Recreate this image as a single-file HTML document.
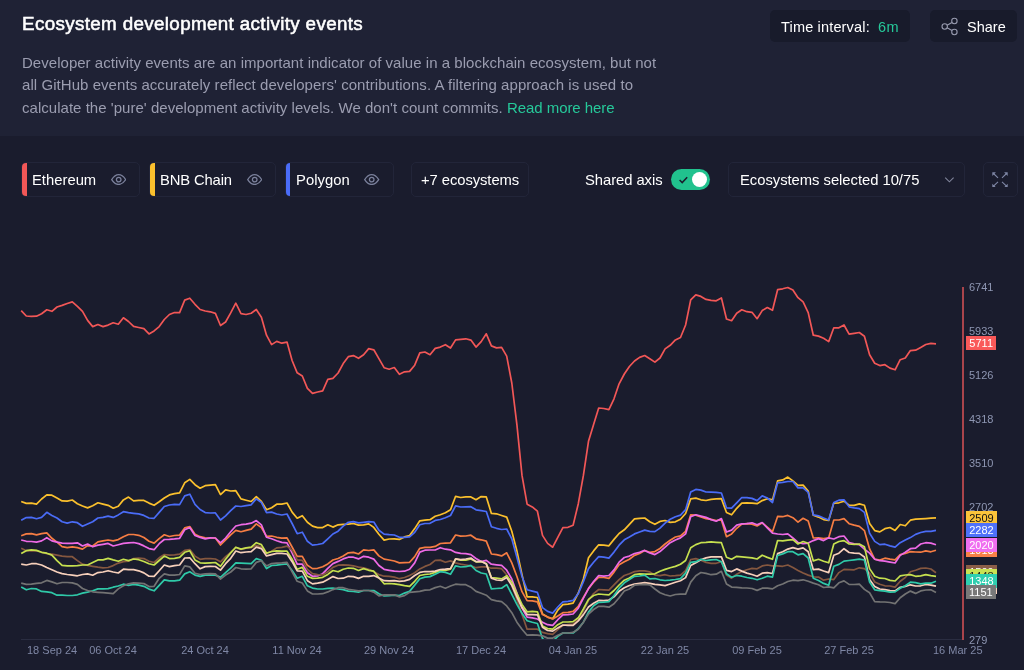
<!DOCTYPE html>
<html><head><meta charset="utf-8">
<style>
*{box-sizing:border-box;margin:0;padding:0}
html,body{width:1024px;height:670px;overflow:hidden;background:#1a1c2d;font-family:"Liberation Sans",sans-serif;color:#fff}
.abs{position:absolute}
#hdr{position:absolute;left:0;top:0;width:1024px;height:136px;background:#1f2235}
.t{position:absolute;white-space:nowrap;line-height:1;will-change:transform}
.btn{position:absolute;background:#181b2b;border-radius:5px;height:32px;top:10px}
.chip{position:absolute;top:162.2px;height:34.4px;border:1px solid #222539;border-radius:5px;overflow:hidden}
.chip i{position:absolute;left:-1px;top:-1px;width:5.5px;height:34.4px;display:block}
.xl{position:absolute;top:644.4px;font-size:11px;line-height:12px;color:#7f87a5;will-change:transform;white-space:nowrap}
.yl{position:absolute;left:969.4px;font-size:11px;line-height:12px;color:#8e96b2;will-change:transform;white-space:nowrap}
.tag{position:absolute;left:966.2px;height:14.2px;font-size:11px;line-height:14.6px;will-change:transform;text-align:center;white-space:nowrap}
</style></head><body>
<div id="hdr"></div>
<div class="btn" style="left:770px;width:140.3px"></div>
<div class="btn" style="left:929.6px;width:87px"></div>
<svg class="abs" style="left:940.5px;top:16.5px" width="18" height="19" viewBox="0 0 18 19"><g fill="none" stroke="#979aae" stroke-width="1.1"><circle cx="13.4" cy="4" r="2.7"/><circle cx="3.7" cy="9.5" r="2.7"/><circle cx="13.4" cy="15" r="2.7"/><path d="M6.1 8.2 L11 5.4 M6.1 10.8 L11 13.6"/></g></svg>
<div class="chip" style="left:21px;width:118.8px"><i style="background:#f25757"></i></div>
<div class="chip" style="left:149px;width:126.8px"><i style="background:#fbc02d"></i></div>
<div class="chip" style="left:284.8px;width:108.8px"><i style="background:#4a6cf7"></i></div>
<div class="chip" style="left:410.8px;width:117.9px"></div>
<svg class="abs" style="left:111px;top:174.2px" width="15.4" height="11.2" viewBox="0 0 22 16"><path d="M1 8 C4.5 2.6 8 1 11 1 S17.5 2.6 21 8 C17.5 13.4 14 15 11 15 S4.5 13.4 1 8Z" fill="none" stroke="#7b819c" stroke-width="1.8"/><circle cx="11" cy="8" r="3.3" fill="none" stroke="#7b819c" stroke-width="1.8"/></svg><svg class="abs" style="left:246.9px;top:174.2px" width="15.4" height="11.2" viewBox="0 0 22 16"><path d="M1 8 C4.5 2.6 8 1 11 1 S17.5 2.6 21 8 C17.5 13.4 14 15 11 15 S4.5 13.4 1 8Z" fill="none" stroke="#7b819c" stroke-width="1.8"/><circle cx="11" cy="8" r="3.3" fill="none" stroke="#7b819c" stroke-width="1.8"/></svg><svg class="abs" style="left:364.3px;top:174.2px" width="15.4" height="11.2" viewBox="0 0 22 16"><path d="M1 8 C4.5 2.6 8 1 11 1 S17.5 2.6 21 8 C17.5 13.4 14 15 11 15 S4.5 13.4 1 8Z" fill="none" stroke="#7b819c" stroke-width="1.8"/><circle cx="11" cy="8" r="3.3" fill="none" stroke="#7b819c" stroke-width="1.8"/></svg>
<div class="abs" style="left:671.2px;top:168.7px;width:39.2px;height:21.8px;border-radius:11px;background:#21c28e"></div>
<div class="abs" style="left:691.7px;top:171.9px;width:15.6px;height:15.6px;border-radius:8px;background:#fff"></div>
<svg class="abs" style="left:677.5px;top:175px" width="11" height="10" viewBox="0 0 11 10"><path d="M1.6 5 L4.2 7.6 L9.2 2.2" fill="none" stroke="#1a1c2d" stroke-width="1.5"/></svg>
<div class="chip" style="left:728px;width:237px"></div>
<svg class="abs" style="left:943.5px;top:175.5px" width="11" height="8" viewBox="0 0 11 8"><path d="M1.2 1.6 L5.4 5.8 L9.6 1.6" fill="none" stroke="#7f8399" stroke-width="1.15"/></svg>
<div class="chip" style="left:983.1px;width:34.6px"></div>
<svg class="abs" style="left:992.2px;top:171.7px" width="16" height="15.6" viewBox="0 0 16 15.6"><g fill="#7f87a6" stroke="#7f87a6" stroke-width="1.1"><path d="M0.3 0.3 H3.9 L0.3 3.9Z M15.7 0.3 V3.9 L12.1 0.3Z M0.3 15.3 V11.7 L3.9 15.3Z M15.7 15.3 H12.1 L15.7 11.7Z" stroke="none"/><path d="M1.5 1.5 L6.0 5.8 M14.5 1.5 L10.0 5.8 M1.5 14.1 L6.0 9.8 M14.5 14.1 L10.0 9.8" fill="none"/></g></svg>
<span class="t" id="t0" style="left:21.94px;top:14.59px;font-size:18.8px;color:#fff;font-weight:normal;letter-spacing:0.360px;-webkit-text-stroke:0.55px #fff">Ecosystem development activity events</span>
<span class="t" id="t1" style="left:22.05px;top:54.80px;font-size:15px;color:#9b9db0;font-weight:normal;letter-spacing:0.031px;">Developer activity events are an important indicator of value in a blockchain ecosystem, but not</span>
<span class="t" id="t2" style="left:22.05px;top:77.30px;font-size:15px;color:#9b9db0;font-weight:normal;letter-spacing:0.057px;">all GitHub events accurately reflect developers' contributions. A filtering approach is used to</span>
<span class="t" id="t3" style="left:22.05px;top:99.80px;font-size:15px;color:#9b9db0;font-weight:normal;letter-spacing:0.029px;">calculate the 'pure' development activity levels. We don't count commits.</span>
<span class="t" id="t4" style="left:507.05px;top:99.80px;font-size:15px;color:#26c99a;font-weight:normal;letter-spacing:-0.062px;">Read more here</span>
<span class="t" id="t5" style="left:780.77px;top:19.93px;font-size:14.5px;color:#fff;font-weight:normal;letter-spacing:0.169px;">Time interval:</span>
<span class="t" id="t6" style="left:878.37px;top:19.93px;font-size:14.5px;color:#26c99a;font-weight:normal;letter-spacing:0.500px;">6m</span>
<span class="t" id="t7" style="left:966.77px;top:19.93px;font-size:14.5px;color:#fff;font-weight:normal;letter-spacing:0.019px;">Share</span>
<span class="t" id="t8" style="left:32.36px;top:172.97px;font-size:14.8px;color:#fff;font-weight:normal;letter-spacing:0.005px;">Ethereum</span>
<span class="t" id="t9" style="left:160.06px;top:172.97px;font-size:14.8px;color:#fff;font-weight:normal;letter-spacing:-0.139px;">BNB Chain</span>
<span class="t" id="t10" style="left:296.06px;top:172.97px;font-size:14.8px;color:#fff;font-weight:normal;letter-spacing:0.035px;">Polygon</span>
<span class="t" id="t11" style="left:420.76px;top:172.97px;font-size:14.8px;color:#fff;font-weight:normal;letter-spacing:-0.076px;">+7 ecosystems</span>
<span class="t" id="t12" style="left:584.76px;top:172.97px;font-size:14.8px;color:#fff;font-weight:normal;letter-spacing:-0.055px;">Shared axis</span>
<span class="t" id="t13" style="left:739.76px;top:172.97px;font-size:14.8px;color:#fff;font-weight:normal;letter-spacing:-0.031px;">Ecosystems selected 10/75</span>
<div class="abs" style="left:21px;top:639px;width:942px;height:1px;background:#2a2d41"></div>
<svg class="abs" style="left:0;top:0" width="1024" height="670"><defs><clipPath id="cp"><rect x="0" y="270" width="960" height="369.1"/></clipPath></defs><g clip-path="url(#cp)">
<path d="M21.2 310.6 L26.3 316.0 L31.4 316.4 L36.5 316.2 L41.6 313.7 L46.8 309.8 L51.9 311.3 L57.0 307.0 L62.1 305.4 L67.2 303.5 L72.3 301.9 L77.4 306.3 L82.5 311.3 L87.6 320.4 L92.7 326.6 L97.9 324.5 L103.0 326.6 L108.1 325.1 L113.2 322.8 L118.3 324.2 L123.4 317.8 L128.5 321.5 L133.6 326.4 L138.7 327.5 L143.9 328.6 L149.0 333.9 L154.1 330.9 L159.2 326.6 L164.3 319.5 L169.4 314.5 L174.5 312.5 L179.6 312.6 L184.7 300.1 L189.8 298.2 L195.0 304.3 L200.1 309.5 L205.2 311.0 L210.3 311.8 L215.4 313.4 L220.5 325.5 L225.6 322.0 L230.7 312.9 L235.8 303.2 L241.0 313.7 L246.1 314.5 L251.2 313.2 L256.3 309.5 L261.4 317.3 L266.5 335.2 L271.6 344.6 L276.7 341.4 L281.8 343.2 L287.0 342.1 L292.1 360.5 L297.2 372.8 L302.3 376.0 L307.4 388.4 L312.5 393.4 L317.6 392.0 L322.7 390.9 L327.8 379.3 L332.9 378.3 L338.1 373.0 L343.2 363.6 L348.3 356.7 L353.4 355.6 L358.5 358.3 L363.6 354.7 L368.7 348.6 L373.8 349.8 L378.9 358.6 L384.1 367.7 L389.2 369.2 L394.3 367.5 L399.4 374.3 L404.5 371.8 L409.6 371.4 L414.7 365.2 L419.8 352.9 L424.9 352.0 L430.0 354.7 L435.2 348.4 L440.3 347.1 L445.4 344.7 L450.5 348.0 L455.6 339.9 L460.7 339.3 L465.8 338.8 L470.9 340.1 L476.0 347.1 L481.2 341.6 L486.3 333.8 L491.4 345.9 L496.5 347.9 L501.6 347.4 L506.7 356.1 L511.8 383.0 L516.9 424.7 L522.0 475.4 L527.1 504.2 L532.3 506.9 L537.4 511.2 L542.5 535.4 L547.6 543.4 L552.7 547.2 L557.8 537.3 L562.9 527.6 L568.0 527.3 L573.1 525.2 L578.3 503.7 L583.4 475.4 L588.5 441.3 L593.6 424.4 L598.7 408.0 L603.8 408.5 L608.9 409.6 L614.0 398.8 L619.1 383.8 L624.3 374.0 L629.4 366.5 L634.5 361.0 L639.6 357.4 L644.7 355.5 L649.8 358.7 L654.9 362.1 L660.0 358.0 L665.1 348.9 L670.2 345.3 L675.4 339.9 L680.5 337.5 L685.6 325.0 L690.7 299.9 L695.8 294.9 L700.9 296.4 L706.0 299.4 L711.1 300.4 L716.2 300.8 L721.4 297.9 L726.5 319.0 L731.6 320.7 L736.7 313.2 L741.8 309.8 L746.9 311.7 L752.0 312.3 L757.1 318.7 L762.2 310.6 L767.3 307.6 L772.5 310.3 L777.6 289.7 L782.7 288.8 L787.8 287.5 L792.9 290.0 L798.0 297.7 L803.1 301.9 L808.2 312.6 L813.3 335.2 L818.5 336.1 L823.6 338.3 L828.7 341.6 L833.8 327.8 L838.9 327.8 L844.0 325.0 L849.1 334.2 L854.2 333.3 L859.3 332.5 L864.4 336.3 L869.6 354.8 L874.7 363.2 L879.8 365.6 L884.9 364.7 L890.0 368.1 L895.1 369.8 L900.2 359.7 L905.3 358.0 L910.4 350.6 L915.6 350.2 L920.7 347.4 L925.8 344.5 L930.9 343.3 L936.0 343.8" fill="none" stroke="#f25757" stroke-width="1.7" stroke-linejoin="round" stroke-linecap="butt"/>
<path d="M21.2 501.5 L26.3 503.4 L31.4 503.2 L36.5 504.1 L41.6 499.0 L46.8 494.8 L51.9 495.2 L57.0 498.1 L62.1 500.9 L67.2 501.1 L72.3 500.0 L77.4 503.7 L82.5 506.0 L87.6 507.9 L92.7 505.7 L97.9 502.8 L103.0 504.1 L108.1 505.3 L113.2 508.2 L118.3 506.2 L123.4 499.9 L128.5 497.1 L133.6 500.9 L138.7 500.4 L143.9 500.4 L149.0 503.1 L154.1 505.3 L159.2 501.8 L164.3 498.0 L169.4 494.9 L174.5 493.6 L179.6 492.9 L184.7 482.8 L189.8 479.4 L195.0 484.7 L200.1 488.2 L205.2 485.7 L210.3 485.1 L215.4 484.7 L220.5 494.6 L225.6 489.8 L230.7 491.0 L235.8 490.7 L241.0 498.9 L246.1 500.2 L251.2 501.5 L256.3 496.7 L261.4 501.4 L266.5 509.8 L271.6 507.7 L276.7 504.2 L281.8 504.2 L287.0 503.0 L292.1 512.1 L297.2 518.2 L302.3 515.7 L307.4 522.3 L312.5 526.1 L317.6 527.6 L322.7 527.6 L327.8 524.8 L332.9 527.1 L338.1 524.8 L343.2 524.4 L348.3 524.2 L353.4 523.5 L358.5 525.1 L363.6 524.8 L368.7 523.9 L373.8 527.4 L378.9 534.3 L384.1 540.1 L389.2 539.0 L394.3 538.8 L399.4 539.4 L404.5 536.9 L409.6 535.6 L414.7 528.6 L419.8 520.8 L424.9 520.1 L430.0 519.7 L435.2 516.2 L440.3 514.7 L445.4 512.8 L450.5 509.8 L455.6 496.3 L460.7 497.5 L465.8 496.9 L470.9 496.9 L476.0 499.7 L481.2 496.6 L486.3 496.9 L491.4 513.4 L496.5 513.8 L501.6 515.5 L506.7 517.1 L511.8 531.2 L516.9 550.9 L522.0 574.6 L527.1 596.8 L532.3 596.8 L537.4 597.5 L542.5 614.0 L547.6 617.1 L552.7 618.7 L557.8 610.1 L562.9 604.7 L568.0 604.2 L573.1 603.2 L578.3 593.0 L583.4 579.0 L588.5 557.8 L593.6 550.9 L598.7 544.8 L603.8 545.1 L608.9 545.8 L614.0 539.4 L619.1 533.5 L624.3 529.8 L629.4 524.3 L634.5 518.9 L639.6 518.4 L644.7 518.0 L649.8 521.8 L654.9 524.3 L660.0 521.4 L665.1 520.5 L670.2 522.4 L675.4 521.8 L680.5 519.3 L685.6 513.5 L690.7 498.9 L695.8 498.1 L700.9 499.8 L706.0 500.5 L711.1 499.3 L716.2 498.9 L721.4 498.6 L726.5 512.5 L731.6 514.8 L736.7 508.3 L741.8 503.1 L746.9 502.8 L752.0 503.1 L757.1 503.7 L762.2 500.6 L767.3 498.7 L772.5 499.9 L777.6 480.9 L782.7 479.9 L787.8 477.1 L792.9 480.9 L798.0 485.3 L803.1 485.1 L808.2 491.0 L813.3 515.2 L818.5 517.1 L823.6 519.6 L828.7 520.5 L833.8 503.1 L838.9 502.8 L844.0 501.2 L849.1 505.2 L854.2 505.4 L859.3 503.9 L864.4 505.2 L869.6 523.6 L874.7 530.6 L879.8 531.9 L884.9 528.7 L890.0 527.5 L895.1 530.4 L900.2 524.5 L905.3 525.8 L910.4 520.2 L915.6 519.2 L920.7 518.9 L925.8 518.6 L930.9 518.2 L936.0 517.9" fill="none" stroke="#fbc02d" stroke-width="1.7" stroke-linejoin="round" stroke-linecap="butt"/>
<path d="M21.2 520.2 L26.3 517.6 L31.4 517.4 L36.5 518.7 L41.6 517.4 L46.8 512.3 L51.9 515.5 L57.0 518.0 L62.1 521.8 L67.2 523.1 L72.3 521.8 L77.4 522.7 L82.5 526.3 L87.6 524.0 L92.7 521.8 L97.9 518.0 L103.0 517.4 L108.1 516.1 L113.2 517.4 L118.3 514.9 L123.4 511.7 L128.5 512.6 L133.6 513.3 L138.7 513.9 L143.9 515.4 L149.0 518.0 L154.1 518.3 L159.2 512.4 L164.3 506.5 L169.4 505.0 L174.5 504.4 L179.6 504.6 L184.7 495.9 L189.8 494.2 L195.0 504.4 L200.1 509.5 L205.2 512.6 L210.3 513.0 L215.4 512.9 L220.5 520.0 L225.6 515.8 L230.7 510.7 L235.8 506.0 L241.0 506.5 L246.1 505.6 L251.2 504.8 L256.3 498.9 L261.4 502.5 L266.5 512.7 L271.6 512.1 L276.7 514.0 L281.8 515.0 L287.0 514.0 L292.1 523.5 L297.2 533.7 L302.3 532.2 L307.4 541.3 L312.5 545.1 L317.6 544.5 L322.7 543.5 L327.8 538.8 L332.9 534.0 L338.1 531.2 L343.2 526.1 L348.3 522.3 L353.4 521.6 L358.5 522.9 L363.6 522.3 L368.7 521.6 L373.8 522.0 L378.9 530.2 L384.1 534.1 L389.2 534.7 L394.3 535.0 L399.4 537.3 L404.5 537.3 L409.6 536.9 L414.7 532.4 L419.8 524.8 L424.9 523.5 L430.0 523.3 L435.2 520.4 L440.3 519.5 L445.4 517.8 L450.5 515.5 L455.6 505.8 L460.7 507.0 L465.8 506.8 L470.9 506.7 L476.0 509.8 L481.2 510.6 L486.3 511.5 L491.4 526.7 L496.5 528.3 L501.6 529.5 L506.7 529.0 L511.8 538.8 L516.9 557.2 L522.0 576.5 L527.1 589.8 L532.3 591.1 L537.4 592.4 L542.5 607.6 L547.6 611.4 L552.7 613.1 L557.8 607.0 L562.9 601.9 L568.0 601.3 L573.1 600.4 L578.3 593.6 L583.4 581.6 L588.5 568.6 L593.6 562.3 L598.7 556.6 L603.8 557.2 L608.9 558.1 L614.0 552.1 L619.1 545.2 L624.3 539.8 L629.4 537.0 L634.5 533.9 L639.6 532.0 L644.7 530.1 L649.8 531.3 L654.9 531.6 L660.0 528.1 L665.1 523.1 L670.2 519.3 L675.4 516.7 L680.5 515.1 L685.6 509.7 L690.7 492.0 L695.8 489.4 L700.9 490.1 L706.0 492.0 L711.1 492.2 L716.2 492.3 L721.4 493.0 L726.5 507.8 L731.6 508.2 L736.7 502.9 L741.8 497.5 L746.9 497.7 L752.0 498.4 L757.1 500.6 L762.2 495.9 L767.3 498.0 L772.5 502.5 L777.6 482.8 L782.7 482.4 L787.8 481.5 L792.9 481.5 L798.0 487.9 L803.1 487.9 L808.2 492.3 L813.3 514.9 L818.5 515.8 L823.6 518.0 L828.7 520.0 L833.8 502.5 L838.9 500.2 L844.0 499.8 L849.1 506.8 L854.2 507.8 L859.3 508.6 L864.4 512.4 L869.6 533.2 L874.7 541.4 L879.8 544.6 L884.9 544.2 L890.0 545.9 L895.1 547.1 L900.2 542.7 L905.3 540.1 L910.4 537.6 L915.6 534.4 L920.7 532.5 L925.8 531.3 L930.9 531.3 L936.0 530.4" fill="none" stroke="#4a6cf7" stroke-width="1.7" stroke-linejoin="round" stroke-linecap="butt"/>
<path d="M21.2 535.8 L26.3 533.9 L31.4 533.6 L36.5 534.9 L41.6 533.6 L46.8 532.9 L51.9 538.3 L57.0 542.1 L62.1 546.6 L67.2 547.6 L72.3 546.8 L77.4 547.6 L82.5 549.1 L87.6 545.6 L92.7 546.0 L97.9 541.8 L103.0 540.9 L108.1 540.0 L113.2 540.9 L118.3 539.6 L123.4 536.7 L128.5 534.5 L133.6 534.5 L138.7 535.3 L143.9 537.5 L149.0 541.2 L154.1 543.1 L159.2 538.6 L164.3 534.8 L169.4 536.5 L174.5 535.5 L179.6 535.1 L184.7 527.9 L189.8 526.6 L195.0 534.2 L200.1 536.7 L205.2 537.8 L210.3 538.0 L215.4 538.0 L220.5 545.0 L225.6 539.9 L230.7 534.8 L235.8 530.4 L241.0 531.7 L246.1 530.4 L251.2 529.1 L256.3 523.9 L261.4 527.6 L266.5 536.3 L271.6 536.0 L276.7 537.3 L281.8 538.1 L287.0 537.8 L292.1 547.0 L297.2 556.3 L302.3 556.3 L307.4 565.3 L312.5 568.6 L317.6 568.3 L322.7 566.7 L327.8 563.9 L332.9 560.0 L338.1 558.5 L343.2 555.9 L348.3 552.8 L353.4 552.4 L358.5 554.0 L363.6 549.9 L368.7 550.5 L373.8 549.9 L378.9 555.9 L384.1 559.1 L389.2 560.0 L394.3 561.0 L399.4 562.9 L404.5 562.6 L409.6 562.3 L414.7 556.6 L419.8 548.3 L424.9 547.4 L430.0 547.3 L435.2 546.4 L440.3 543.5 L445.4 543.2 L450.5 542.8 L455.6 535.0 L460.7 536.2 L465.8 536.0 L470.9 535.2 L476.0 538.8 L481.2 539.8 L486.3 541.1 L491.4 554.0 L496.5 554.7 L501.6 555.9 L506.7 552.8 L511.8 562.9 L516.9 576.5 L522.0 591.7 L527.1 600.6 L532.3 600.9 L537.4 601.9 L542.5 614.6 L547.6 617.1 L552.7 619.0 L557.8 615.9 L562.9 612.7 L568.0 612.3 L573.1 611.4 L578.3 606.3 L583.4 597.5 L588.5 588.6 L593.6 582.2 L598.7 577.1 L603.8 577.5 L608.9 578.4 L614.0 572.1 L619.1 564.8 L624.3 561.7 L629.4 559.2 L634.5 555.4 L639.6 553.5 L644.7 550.6 L649.8 552.3 L654.9 551.6 L660.0 548.5 L665.1 544.0 L670.2 540.2 L675.4 537.0 L680.5 535.8 L685.6 531.3 L690.7 514.8 L695.8 515.1 L700.9 517.0 L706.0 518.6 L711.1 519.3 L716.2 520.5 L721.4 519.9 L726.5 536.7 L731.6 533.9 L736.7 528.3 L741.8 524.2 L746.9 523.7 L752.0 524.1 L757.1 526.0 L762.2 522.8 L767.3 527.2 L772.5 531.7 L777.6 516.4 L782.7 516.7 L787.8 515.4 L792.9 517.7 L798.0 522.1 L803.1 518.3 L808.2 520.9 L813.3 538.0 L818.5 537.8 L823.6 538.6 L828.7 537.8 L833.8 520.0 L838.9 520.0 L844.0 518.6 L849.1 523.7 L854.2 525.1 L859.3 526.3 L864.4 530.6 L869.6 549.0 L874.7 559.2 L879.8 560.1 L884.9 558.2 L890.0 559.2 L895.1 559.8 L900.2 554.7 L905.3 553.5 L910.4 551.6 L915.6 552.0 L920.7 552.2 L925.8 550.9 L930.9 551.8 L936.0 550.3" fill="none" stroke="#f67d43" stroke-width="1.7" stroke-linejoin="round" stroke-linecap="butt"/>
<path d="M21.2 540.0 L26.3 541.3 L31.4 541.5 L36.5 542.1 L41.6 540.9 L46.8 537.7 L51.9 540.9 L57.0 542.1 L62.1 543.2 L67.2 543.4 L72.3 543.4 L77.4 542.8 L82.5 546.0 L87.6 544.1 L92.7 546.8 L97.9 545.1 L103.0 544.3 L108.1 543.4 L113.2 546.0 L118.3 544.7 L123.4 543.4 L128.5 542.8 L133.6 542.5 L138.7 543.6 L143.9 545.9 L149.0 548.6 L154.1 549.7 L159.2 543.7 L164.3 539.5 L169.4 539.3 L174.5 538.9 L179.6 538.3 L184.7 529.8 L189.8 527.5 L195.0 535.5 L200.1 537.4 L205.2 538.9 L210.3 537.8 L215.4 538.0 L220.5 542.8 L225.6 538.0 L230.7 531.7 L235.8 526.0 L241.0 524.7 L246.1 524.1 L251.2 523.2 L256.3 520.6 L261.4 524.9 L266.5 537.3 L271.6 538.8 L276.7 540.7 L281.8 542.4 L287.0 542.9 L292.1 552.8 L297.2 564.2 L302.3 564.2 L307.4 572.8 L312.5 576.3 L317.6 575.9 L322.7 573.7 L327.8 568.3 L332.9 563.6 L338.1 561.4 L343.2 558.9 L348.3 557.2 L353.4 557.2 L358.5 558.9 L363.6 556.3 L368.7 557.2 L373.8 559.1 L378.9 565.5 L384.1 569.3 L389.2 570.3 L394.3 571.2 L399.4 571.5 L404.5 571.2 L409.6 569.2 L414.7 562.9 L419.8 552.1 L424.9 550.2 L430.0 550.0 L435.2 550.0 L440.3 547.7 L445.4 549.2 L450.5 549.8 L455.6 552.4 L460.7 553.4 L465.8 553.6 L470.9 554.6 L476.0 558.5 L481.2 561.6 L486.3 560.4 L491.4 564.2 L496.5 564.8 L501.6 565.3 L506.7 570.2 L511.8 579.0 L516.9 593.0 L522.0 608.2 L527.1 617.1 L532.3 617.8 L537.4 619.0 L542.5 622.2 L547.6 624.7 L552.7 625.4 L557.8 619.7 L562.9 614.8 L568.0 614.6 L573.1 614.0 L578.3 608.2 L583.4 598.1 L588.5 588.6 L593.6 581.6 L598.7 575.5 L603.8 576.2 L608.9 575.5 L614.0 569.9 L619.1 562.1 L624.3 557.5 L629.4 556.1 L634.5 553.5 L639.6 552.3 L644.7 550.4 L649.8 552.9 L654.9 554.6 L660.0 551.6 L665.1 547.2 L670.2 542.7 L675.4 540.0 L680.5 537.9 L685.6 533.9 L690.7 516.7 L695.8 514.8 L700.9 516.1 L706.0 517.4 L711.1 519.6 L716.2 521.2 L721.4 518.6 L726.5 532.0 L731.6 530.1 L736.7 525.1 L741.8 523.9 L746.9 523.7 L752.0 522.8 L757.1 524.7 L762.2 522.5 L767.3 527.9 L772.5 533.2 L777.6 534.0 L782.7 534.5 L787.8 533.8 L792.9 538.0 L798.0 542.5 L803.1 543.7 L808.2 543.1 L813.3 540.6 L818.5 538.6 L823.6 540.6 L828.7 537.8 L833.8 539.0 L838.9 536.7 L844.0 536.0 L849.1 542.6 L854.2 543.8 L859.3 544.6 L864.4 549.2 L869.6 553.1 L874.7 559.2 L879.8 560.7 L884.9 561.1 L890.0 562.1 L895.1 563.0 L900.2 555.4 L905.3 552.2 L910.4 548.7 L915.6 548.1 L920.7 544.0 L925.8 542.7 L930.9 543.1 L936.0 544.8" fill="none" stroke="#ee6ae6" stroke-width="1.7" stroke-linejoin="round" stroke-linecap="butt"/>
<path d="M21.2 548.2 L26.3 550.7 L31.4 551.0 L36.5 550.7 L41.6 552.3 L46.8 553.6 L51.9 554.2 L57.0 555.1 L62.1 556.1 L67.2 556.7 L72.3 556.7 L77.4 560.6 L82.5 564.1 L87.6 565.4 L92.7 566.3 L97.9 567.2 L103.0 567.8 L108.1 567.5 L113.2 565.6 L118.3 563.1 L123.4 561.6 L128.5 561.2 L133.6 558.6 L138.7 558.2 L143.9 558.6 L149.0 561.2 L154.1 562.5 L159.2 557.8 L164.3 554.5 L169.4 555.1 L174.5 554.8 L179.6 554.2 L184.7 550.4 L189.8 549.5 L195.0 556.1 L200.1 559.3 L205.2 558.6 L210.3 558.6 L215.4 559.0 L220.5 561.8 L225.6 556.7 L230.7 552.3 L235.8 547.6 L241.0 549.4 L246.1 548.2 L251.2 547.6 L256.3 545.4 L261.4 547.1 L266.5 553.2 L271.6 551.2 L276.7 547.9 L281.8 547.4 L287.0 546.2 L292.1 550.2 L297.2 559.8 L302.3 560.4 L307.4 569.3 L312.5 573.7 L317.6 574.6 L322.7 575.0 L327.8 571.8 L332.9 567.4 L338.1 565.2 L343.2 564.8 L348.3 565.2 L353.4 565.8 L358.5 567.1 L363.6 567.8 L368.7 569.3 L373.8 571.8 L378.9 574.6 L384.1 576.2 L389.2 576.4 L394.3 577.1 L399.4 578.7 L404.5 577.5 L409.6 575.5 L414.7 572.8 L419.8 568.9 L424.9 566.4 L430.0 564.5 L435.2 560.3 L440.3 560.1 L445.4 562.2 L450.5 560.9 L455.6 562.9 L460.7 564.1 L465.8 565.0 L470.9 565.8 L476.0 567.7 L481.2 566.9 L486.3 566.9 L491.4 568.2 L496.5 568.1 L501.6 568.7 L506.7 574.8 L511.8 585.4 L516.9 599.4 L522.0 614.6 L527.1 629.2 L532.3 629.2 L537.4 629.2 L542.5 632.4 L547.6 633.6 L552.7 634.3 L557.8 629.6 L562.9 625.4 L568.0 624.7 L573.1 624.1 L578.3 619.7 L583.4 610.8 L588.5 600.6 L593.6 593.6 L598.7 589.5 L603.8 589.8 L608.9 590.2 L614.0 584.8 L619.1 579.6 L624.3 575.5 L629.4 573.8 L634.5 571.6 L639.6 570.9 L644.7 570.9 L649.8 571.9 L654.9 575.1 L660.0 575.7 L665.1 574.7 L670.2 576.0 L675.4 575.7 L680.5 575.1 L685.6 570.6 L690.7 559.5 L695.8 558.6 L700.9 560.2 L706.0 562.4 L711.1 563.3 L716.2 563.3 L721.4 561.7 L726.5 575.1 L731.6 578.2 L736.7 574.2 L741.8 571.6 L746.9 569.7 L752.0 568.4 L757.1 568.8 L762.2 565.9 L767.3 565.0 L772.5 565.9 L777.6 565.9 L782.7 566.3 L787.8 565.0 L792.9 567.5 L798.0 570.4 L803.1 573.0 L808.2 575.1 L813.3 576.8 L818.5 577.1 L823.6 580.2 L828.7 579.0 L833.8 579.6 L838.9 572.6 L844.0 569.4 L849.1 569.6 L854.2 569.8 L859.3 567.8 L864.4 568.7 L869.6 573.1 L874.7 582.0 L879.8 584.3 L884.9 585.8 L890.0 586.0 L895.1 587.1 L900.2 581.3 L905.3 577.5 L910.4 571.8 L915.6 570.3 L920.7 568.4 L925.8 568.0 L930.9 569.0 L936.0 572.8" fill="none" stroke="#85573f" stroke-width="1.7" stroke-linejoin="round" stroke-linecap="butt"/>
<path d="M21.2 553.6 L26.3 550.7 L31.4 549.8 L36.5 550.4 L41.6 552.3 L46.8 553.2 L51.9 555.1 L57.0 560.6 L62.1 565.4 L67.2 565.9 L72.3 565.9 L77.4 565.6 L82.5 565.0 L87.6 565.0 L92.7 562.5 L97.9 559.9 L103.0 559.9 L108.1 558.4 L113.2 559.9 L118.3 561.2 L123.4 559.3 L128.5 560.6 L133.6 559.0 L138.7 559.7 L143.9 561.5 L149.0 563.7 L154.1 565.0 L159.2 560.5 L164.3 556.1 L169.4 558.6 L174.5 558.3 L179.6 557.4 L184.7 552.3 L189.8 550.8 L195.0 559.9 L200.1 562.8 L205.2 563.1 L210.3 562.8 L215.4 562.5 L220.5 566.3 L225.6 559.3 L230.7 552.9 L235.8 547.2 L241.0 549.1 L246.1 547.9 L251.2 547.2 L256.3 542.7 L261.4 544.6 L266.5 553.2 L271.6 551.5 L276.7 550.9 L281.8 551.2 L287.0 551.2 L292.1 559.1 L297.2 569.3 L302.3 567.4 L307.4 576.3 L312.5 578.4 L317.6 578.2 L322.7 577.3 L327.8 574.4 L332.9 570.5 L338.1 571.8 L343.2 569.3 L348.3 568.0 L353.4 568.3 L358.5 570.5 L363.6 568.6 L368.7 570.3 L373.8 571.2 L378.9 577.8 L384.1 583.8 L389.2 583.5 L394.3 583.8 L399.4 584.7 L404.5 585.7 L409.6 586.3 L414.7 581.3 L419.8 575.5 L424.9 574.5 L430.0 574.0 L435.2 572.4 L440.3 570.7 L445.4 570.5 L450.5 569.2 L455.6 559.0 L460.7 560.1 L465.8 560.1 L470.9 559.0 L476.0 561.8 L481.2 561.8 L486.3 563.5 L491.4 577.5 L496.5 578.2 L501.6 578.9 L506.7 575.6 L511.8 582.2 L516.9 593.6 L522.0 604.4 L527.1 611.8 L532.3 611.4 L537.4 611.8 L542.5 626.0 L547.6 628.6 L552.7 629.2 L557.8 624.7 L562.9 622.0 L568.0 622.0 L573.1 621.6 L578.3 617.8 L583.4 608.9 L588.5 599.4 L593.6 595.5 L598.7 594.0 L603.8 594.5 L608.9 594.9 L614.0 590.5 L619.1 585.0 L624.3 580.2 L629.4 578.0 L634.5 574.7 L639.6 573.8 L644.7 574.1 L649.8 574.2 L654.9 573.8 L660.0 571.3 L665.1 569.4 L670.2 567.7 L675.4 566.4 L680.5 564.3 L685.6 560.5 L690.7 547.8 L695.8 544.6 L700.9 542.7 L706.0 542.4 L711.1 541.8 L716.2 542.3 L721.4 542.7 L726.5 557.3 L731.6 559.2 L736.7 556.3 L741.8 556.8 L746.9 557.3 L752.0 557.8 L757.1 559.0 L762.2 555.2 L767.3 557.4 L772.5 559.3 L777.6 540.5 L782.7 540.9 L787.8 540.2 L792.9 539.6 L798.0 544.0 L803.1 541.5 L808.2 543.2 L813.3 560.9 L818.5 559.3 L823.6 561.2 L828.7 562.8 L833.8 544.0 L838.9 541.5 L844.0 540.6 L849.1 544.0 L854.2 544.4 L859.3 544.1 L864.4 546.8 L869.6 568.6 L874.7 576.3 L879.8 578.2 L884.9 578.5 L890.0 580.4 L895.1 581.0 L900.2 575.9 L905.3 575.0 L910.4 574.6 L915.6 576.3 L920.7 575.9 L925.8 574.6 L930.9 575.6 L936.0 576.3" fill="none" stroke="#c6e04f" stroke-width="1.7" stroke-linejoin="round" stroke-linecap="butt"/>
<path d="M21.2 564.1 L26.3 565.0 L31.4 563.7 L36.5 563.7 L41.6 565.0 L46.8 567.5 L51.9 569.7 L57.0 572.0 L62.1 573.6 L67.2 574.5 L72.3 575.2 L77.4 575.8 L82.5 574.5 L87.6 573.9 L92.7 575.2 L97.9 572.6 L103.0 572.0 L108.1 570.7 L113.2 572.0 L118.3 573.0 L123.4 569.2 L128.5 569.7 L133.6 569.7 L138.7 570.8 L143.9 572.9 L149.0 576.2 L154.1 576.4 L159.2 570.7 L164.3 565.0 L169.4 566.6 L174.5 565.6 L179.6 565.0 L184.7 558.0 L189.8 557.8 L195.0 563.7 L200.1 568.8 L205.2 566.6 L210.3 566.3 L215.4 566.5 L220.5 570.1 L225.6 563.7 L230.7 558.3 L235.8 551.0 L241.0 552.7 L246.1 552.0 L251.2 551.7 L256.3 547.1 L261.4 548.6 L266.5 555.9 L271.6 554.7 L276.7 553.4 L281.8 553.4 L287.0 554.0 L292.1 561.7 L297.2 570.8 L302.3 571.2 L307.4 580.7 L312.5 583.9 L317.6 583.2 L322.7 582.2 L327.8 579.4 L332.9 576.6 L338.1 578.5 L343.2 578.2 L348.3 576.3 L353.4 576.6 L358.5 578.4 L363.6 576.3 L368.7 576.3 L373.8 575.6 L378.9 578.1 L384.1 580.7 L389.2 580.9 L394.3 580.6 L399.4 581.3 L404.5 580.9 L409.6 579.4 L414.7 575.5 L419.8 572.4 L424.9 571.5 L430.0 571.7 L435.2 571.1 L440.3 569.5 L445.4 569.2 L450.5 568.6 L455.6 558.8 L460.7 559.7 L465.8 559.0 L470.9 558.0 L476.0 561.6 L481.2 561.3 L486.3 564.1 L491.4 578.1 L496.5 580.0 L501.6 580.5 L506.7 577.6 L511.8 585.4 L516.9 596.8 L522.0 607.6 L527.1 614.6 L532.3 614.6 L537.4 614.8 L542.5 627.3 L547.6 630.5 L552.7 631.1 L557.8 627.9 L562.9 625.0 L568.0 625.4 L573.1 625.4 L578.3 620.9 L583.4 614.6 L588.5 607.0 L593.6 603.2 L598.7 600.4 L603.8 600.6 L608.9 600.0 L614.0 596.8 L619.1 591.3 L624.3 587.7 L629.4 585.5 L634.5 584.0 L639.6 583.3 L644.7 582.7 L649.8 583.3 L654.9 584.3 L660.0 584.8 L665.1 585.6 L670.2 584.0 L675.4 582.3 L680.5 580.8 L685.6 577.6 L690.7 565.5 L695.8 562.8 L700.9 559.8 L706.0 557.9 L711.1 556.9 L716.2 556.9 L721.4 556.9 L726.5 570.4 L731.6 571.6 L736.7 568.9 L741.8 571.1 L746.9 573.1 L752.0 574.5 L757.1 576.2 L762.2 573.2 L767.3 572.6 L772.5 573.5 L777.6 553.6 L782.7 551.7 L787.8 549.1 L792.9 547.6 L798.0 549.1 L803.1 547.9 L808.2 551.7 L813.3 569.7 L818.5 569.1 L823.6 571.0 L828.7 572.6 L833.8 555.2 L838.9 553.2 L844.0 548.7 L849.1 552.5 L854.2 553.2 L859.3 553.4 L864.4 557.0 L869.6 579.4 L874.7 586.4 L879.8 589.0 L884.9 589.6 L890.0 590.6 L895.1 590.9 L900.2 587.3 L905.3 586.4 L910.4 584.8 L915.6 586.0 L920.7 585.8 L925.8 584.5 L930.9 585.1 L936.0 586.2" fill="none" stroke="#f7d0bb" stroke-width="1.7" stroke-linejoin="round" stroke-linecap="butt"/>
<path d="M21.2 587.0 L26.3 589.8 L31.4 588.5 L36.5 588.9 L41.6 591.4 L46.8 591.8 L51.9 592.7 L57.0 595.2 L62.1 595.2 L67.2 595.5 L72.3 595.5 L77.4 594.8 L82.5 593.1 L87.6 592.1 L92.7 590.8 L97.9 588.9 L103.0 588.9 L108.1 588.6 L113.2 587.2 L118.3 586.0 L123.4 584.2 L128.5 585.4 L133.6 584.4 L138.7 585.2 L143.9 586.3 L149.0 589.1 L154.1 590.8 L159.2 585.3 L164.3 579.8 L169.4 580.9 L174.5 580.9 L179.6 580.2 L184.7 573.9 L189.8 571.7 L195.0 575.1 L200.1 576.4 L205.2 575.1 L210.3 574.9 L215.4 575.1 L220.5 577.3 L225.6 572.6 L230.7 568.2 L235.8 562.8 L241.0 563.1 L246.1 563.3 L251.2 563.7 L256.3 558.6 L261.4 560.2 L266.5 568.6 L271.6 565.5 L276.7 565.1 L281.8 564.5 L287.0 563.9 L292.1 570.5 L297.2 578.2 L302.3 576.3 L307.4 585.8 L312.5 588.1 L317.6 589.0 L322.7 589.0 L327.8 588.3 L332.9 588.1 L338.1 589.0 L343.2 589.6 L348.3 591.1 L353.4 591.5 L358.5 592.1 L363.6 590.5 L368.7 590.5 L373.8 590.5 L378.9 593.7 L384.1 596.0 L389.2 595.6 L394.3 595.2 L399.4 595.5 L404.5 593.1 L409.6 591.4 L414.7 585.1 L419.8 578.7 L424.9 577.1 L430.0 576.6 L435.2 574.3 L440.3 571.7 L445.4 572.4 L450.5 574.3 L455.6 565.8 L460.7 567.0 L465.8 566.7 L470.9 565.4 L476.0 570.5 L481.2 573.0 L486.3 574.0 L491.4 588.9 L496.5 588.5 L501.6 588.2 L506.7 584.6 L511.8 594.3 L516.9 604.4 L522.0 613.3 L527.1 620.7 L532.3 622.2 L537.4 623.5 L542.5 638.5 L547.6 643.0 L552.7 641.2 L557.8 636.4 L562.9 633.0 L568.0 633.0 L573.1 633.0 L578.3 628.6 L583.4 622.2 L588.5 612.1 L593.6 605.7 L598.7 602.3 L603.8 602.1 L608.9 601.6 L614.0 595.5 L619.1 588.2 L624.3 582.8 L629.4 579.5 L634.5 576.3 L639.6 576.0 L644.7 575.1 L649.8 578.9 L654.9 578.5 L660.0 579.8 L665.1 580.5 L670.2 580.1 L675.4 579.5 L680.5 578.6 L685.6 573.2 L690.7 562.4 L695.8 561.7 L700.9 559.2 L706.0 560.5 L711.1 559.8 L716.2 559.5 L721.4 561.7 L726.5 573.8 L731.6 577.2 L736.7 575.5 L741.8 576.2 L746.9 577.5 L752.0 578.3 L757.1 579.8 L762.2 578.3 L767.3 576.2 L772.5 577.1 L777.6 555.5 L782.7 553.9 L787.8 551.7 L792.9 551.7 L798.0 554.8 L803.1 553.6 L808.2 558.0 L813.3 578.3 L818.5 580.5 L823.6 583.4 L828.7 585.3 L833.8 566.3 L838.9 564.4 L844.0 561.1 L849.1 560.5 L854.2 559.8 L859.3 559.1 L864.4 560.0 L869.6 582.0 L874.7 589.8 L879.8 590.6 L884.9 591.2 L890.0 592.1 L895.1 591.9 L900.2 588.3 L905.3 585.8 L910.4 582.2 L915.6 582.6 L920.7 583.9 L925.8 583.2 L930.9 583.2 L936.0 581.3" fill="none" stroke="#2fc9a8" stroke-width="1.7" stroke-linejoin="round" stroke-linecap="butt"/>
<path d="M21.2 583.2 L26.3 584.4 L31.4 584.1 L36.5 583.4 L41.6 582.8 L46.8 580.4 L51.9 581.9 L57.0 583.8 L62.1 582.5 L67.2 582.5 L72.3 582.9 L77.4 584.4 L82.5 588.5 L87.6 590.5 L92.7 591.8 L97.9 592.3 L103.0 592.7 L108.1 593.1 L113.2 593.6 L118.3 588.9 L123.4 585.7 L128.5 583.8 L133.6 582.9 L138.7 583.2 L143.9 583.6 L149.0 586.6 L154.1 586.3 L159.2 578.3 L164.3 573.9 L169.4 575.1 L174.5 575.1 L179.6 574.5 L184.7 565.9 L189.8 566.9 L195.0 573.2 L200.1 574.5 L205.2 573.9 L210.3 573.6 L215.4 573.9 L220.5 579.2 L225.6 575.1 L230.7 572.0 L235.8 567.5 L241.0 568.8 L246.1 569.2 L251.2 568.8 L256.3 562.4 L261.4 560.8 L266.5 565.9 L271.6 563.6 L276.7 563.2 L281.8 562.9 L287.0 562.3 L292.1 571.8 L297.2 581.3 L302.3 583.0 L307.4 590.9 L312.5 594.0 L317.6 594.0 L322.7 593.7 L327.8 591.9 L332.9 589.6 L338.1 587.7 L343.2 587.7 L348.3 589.3 L353.4 590.0 L358.5 590.9 L363.6 590.5 L368.7 590.5 L373.8 592.1 L378.9 595.9 L384.1 594.8 L389.2 594.8 L394.3 594.8 L399.4 596.9 L404.5 595.6 L409.6 592.3 L414.7 591.8 L419.8 591.4 L424.9 590.1 L430.0 589.8 L435.2 587.6 L440.3 586.3 L445.4 588.2 L450.5 586.0 L455.6 584.2 L460.7 584.7 L465.8 584.7 L470.9 587.2 L476.0 591.4 L481.2 593.3 L486.3 595.2 L491.4 599.7 L496.5 600.8 L501.6 601.6 L506.7 605.9 L511.8 612.7 L516.9 622.2 L522.0 629.2 L527.1 635.2 L532.3 634.9 L537.4 635.2 L542.5 635.9 L547.6 638.1 L552.7 638.1 L557.8 635.2 L562.9 633.0 L568.0 633.0 L573.1 632.4 L578.3 629.2 L583.4 622.2 L588.5 614.0 L593.6 609.5 L598.7 606.3 L603.8 606.3 L608.9 607.2 L614.0 603.8 L619.1 597.7 L624.3 591.0 L629.4 589.0 L634.5 585.2 L639.6 584.6 L644.7 584.3 L649.8 584.8 L654.9 589.0 L660.0 592.8 L665.1 594.7 L670.2 596.0 L675.4 594.5 L680.5 594.1 L685.6 594.1 L690.7 582.1 L695.8 575.7 L700.9 572.5 L706.0 573.4 L711.1 574.7 L716.2 574.2 L721.4 571.3 L726.5 584.0 L731.6 587.1 L736.7 587.4 L741.8 587.8 L746.9 588.0 L752.0 588.5 L757.1 590.4 L762.2 588.2 L767.3 588.1 L772.5 588.9 L777.6 585.7 L782.7 584.0 L787.8 581.5 L792.9 580.2 L798.0 580.6 L803.1 579.8 L808.2 581.2 L813.3 583.1 L818.5 584.7 L823.6 587.5 L828.7 586.8 L833.8 587.8 L838.9 582.8 L844.0 580.9 L849.1 584.4 L854.2 584.5 L859.3 584.1 L864.4 589.4 L869.6 592.8 L874.7 601.6 L879.8 601.9 L884.9 602.0 L890.0 602.5 L895.1 603.6 L900.2 597.8 L905.3 594.0 L910.4 591.1 L915.6 593.4 L920.7 590.9 L925.8 590.0 L930.9 589.8 L936.0 592.4" fill="none" stroke="#737373" stroke-width="1.7" stroke-linejoin="round" stroke-linecap="butt"/>
</g></svg>
<div class="abs" style="left:962px;top:287.3px;width:2px;height:352.3px;background:#a9444b"></div>
<span class="yl" style="top:281.1px">6741</span><span class="yl" style="top:325.1px">5933</span><span class="yl" style="top:369.1px">5126</span><span class="yl" style="top:413.1px">4318</span><span class="yl" style="top:457.1px">3510</span><span class="yl" style="top:501.1px">2702</span><span class="yl" style="top:633.5px">279</span><span class="xl" style="left:26.9px">18 Sep 24</span><span class="xl" style="left:73.1px;width:80px;text-align:center">06 Oct 24</span><span class="xl" style="left:164.9px;width:80px;text-align:center">24 Oct 24</span><span class="xl" style="left:257.0px;width:80px;text-align:center">11 Nov 24</span><span class="xl" style="left:348.7px;width:80px;text-align:center">29 Nov 24</span><span class="xl" style="left:440.8px;width:80px;text-align:center">17 Dec 24</span><span class="xl" style="left:533.1px;width:80px;text-align:center">04 Jan 25</span><span class="xl" style="left:624.8px;width:80px;text-align:center">22 Jan 25</span><span class="xl" style="left:716.7px;width:80px;text-align:center">09 Feb 25</span><span class="xl" style="left:808.8px;width:80px;text-align:center">27 Feb 25</span><span class="xl" style="left:933.0px">16 Mar 25</span><span class="tag" style="top:336.4px;background:#fa5959;color:#fff;width:30.4px">5711</span><span class="tag" style="top:510.8px;background:#fcc43a;color:#111;width:31px">2509</span><span class="tag" style="top:523.2px;background:#4e71fa;color:#fff;width:31px">2282</span><span class="tag" style="top:543.0px;background:#f98047;color:#fff;width:31px">1918</span><span class="tag" style="top:537.5px;background:#f06ff0;color:#fff;width:31px">2020</span><span class="tag" style="top:565.3px;background:#8c5e48;color:#fff;width:31px">1509</span><span class="tag" style="top:568.6px;background:#c9e253;color:#222;width:31px">1448</span><span class="tag" style="top:579.8px;background:#f8d3bf;color:#fff;width:31px">1242</span><span class="tag" style="top:574.1px;background:#2fcfb0;color:#fff;width:31px">1348</span><span class="tag" style="top:584.8px;background:#787878;color:#fff;width:29.6px">1151</span>
</body></html>
